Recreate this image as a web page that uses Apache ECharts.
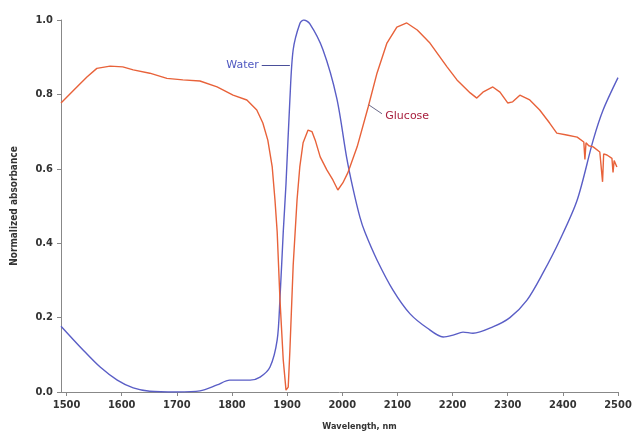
<!DOCTYPE html>
<html>
<head>
<meta charset="utf-8">
<script src="https://cdn.jsdelivr.net/npm/echarts@6/dist/echarts.min.js"></script>
<style>
  html, body { margin: 0; padding: 0; background: #fff; }
  #chart { width: 632px; height: 434px; }
</style>
</head>
<body>
<div id="chart"></div>
<script>
// wavelength ticks
var xTicks = [1500, 1600, 1700, 1800, 1900, 2000, 2100, 2200, 2300, 2400, 2500];

// water absorbance [wavelength, value]
var waterX = [1490, 1530, 1561, 1592, 1621, 1651, 1700, 1742, 1773, 1796, 1833, 1851, 1869, 1882, 1887, 1893,
  1898, 1905, 1911, 1923, 1930, 1941, 1965, 1990, 2008, 2019, 2032, 2041, 2063, 2092, 2123, 2154, 2183,
  2201, 2219, 2237, 2273, 2304, 2335, 2364, 2395, 2426, 2455, 2473, 2500];
var waterY = [0.177, 0.113, 0.067, 0.032, 0.011, 0.002, 0.0, 0.003, 0.019, 0.032, 0.032, 0.04, 0.067, 0.14, 0.25, 0.43,
  0.56, 0.785, 0.92, 0.99, 1.0, 0.99, 0.92, 0.79, 0.63, 0.55, 0.47, 0.43, 0.355, 0.274, 0.21, 0.172, 0.148,
  0.153, 0.161, 0.158, 0.175, 0.2, 0.247, 0.32, 0.41, 0.516, 0.677, 0.758, 0.845];

// glucose absorbance [wavelength, value]
var glucoseX = [1490, 1512, 1537, 1555, 1579, 1602, 1621, 1651, 1682, 1711, 1742, 1773, 1802, 1827, 1845, 1856,
  1865, 1873, 1878, 1882, 1887, 1893, 1898, 1902, 1905, 1911, 1918, 1923, 1929, 1938, 1945, 1951, 1960,
  1972, 1983, 1992, 2001, 2010, 2027, 2047, 2063, 2081, 2099, 2117, 2136, 2159, 2190, 2208, 2232, 2244,
  2255, 2273, 2286, 2300, 2309, 2322, 2340, 2358, 2376, 2389, 2407, 2426, 2438, 2440, 2442, 2447, 2455,
  2467, 2470, 2472, 2474, 2480, 2489, 2491, 2493, 2498];
var glucoseY = [0.777, 0.81, 0.847, 0.87, 0.876, 0.874, 0.866, 0.857, 0.843, 0.839, 0.836, 0.82, 0.798, 0.785, 0.758, 0.723,
  0.677, 0.605, 0.516, 0.43, 0.25, 0.086, 0.005, 0.013, 0.11, 0.34, 0.516, 0.605, 0.67, 0.704, 0.7, 0.677, 0.632,
  0.597, 0.57, 0.543, 0.562, 0.589, 0.659, 0.766, 0.857, 0.938, 0.981, 0.992, 0.973, 0.938, 0.874, 0.839, 0.804, 0.79,
  0.806, 0.82, 0.806, 0.777, 0.78, 0.798, 0.785, 0.758, 0.723, 0.696, 0.691, 0.685, 0.672, 0.625, 0.67, 0.662, 0.659,
  0.645, 0.64, 0.565, 0.64, 0.637, 0.628, 0.59, 0.622, 0.605];

function pairs(xs, ys) {
  var out = [];
  for (var i = 0; i < xs.length; i++) out.push([xs[i], ys[i]]);
  return out;
}

var myChart = echarts.init(document.getElementById('chart'));

var axisFont = { color: '#333', fontSize: 11, fontWeight: 'bold', fontFamily: 'Liberation Sans Narrow, DejaVu Sans Condensed, sans-serif' };

var option = {
  backgroundColor: '#fff',
  animation: false,
  grid: { left: 61, right: 14, top: 20, bottom: 42, outerBoundsMode: 'none' },
  xAxis: {
    type: 'value',
    min: 1490,
    max: 2500,
    name: 'Wavelength, nm',
    nameLocation: 'middle',
    nameGap: 30,
    nameTextStyle: { color: '#333', fontSize: 9, fontWeight: 'bold', fontFamily: 'DejaVu Sans Condensed, sans-serif', padding: [0, 0, 0, 40] },
    splitLine: { show: false },
    axisLine: { lineStyle: { color: '#888', width: 1 } },
    axisTick: { customValues: xTicks, length: 4, lineStyle: { color: '#888' } },
    axisLabel: Object.assign({ customValues: xTicks, margin: 8, formatter: function (v) { return String(v); } }, axisFont)
  },
  yAxis: {
    type: 'value',
    min: 0,
    max: 1,
    interval: 0.2,
    name: 'Normalized absorbance',
    nameLocation: 'middle',
    nameGap: 42,
    nameTextStyle: { color: '#333', fontSize: 10, fontWeight: 'bold', fontFamily: 'DejaVu Sans Condensed, sans-serif' },
    splitLine: { show: false },
    axisLine: { show: true, lineStyle: { color: '#888', width: 1 } },
    axisTick: { show: true, length: 4, lineStyle: { color: '#888' } },
    axisLabel: Object.assign({ formatter: function (v) { return v.toFixed(1); }, margin: 8 }, axisFont)
  },
  series: [
    {
      name: 'Water',
      type: 'line',
      smooth: 0.3,
      showSymbol: false,
      lineStyle: { color: '#5a5ec6', width: 1.4 },
      data: pairs(waterX, waterY),
      markLine: {
        silent: true,
        symbol: ['none', 'none'],
        lineStyle: { color: '#4a4f9a', width: 1, type: 'solid' },
        label: { show: true, position: 'end', formatter: 'Water', color: '#4f58c0', fontSize: 11, fontFamily: 'DejaVu Sans, sans-serif', distance: 3 },
        data: [[{ coord: [1905, 0.879] }, { coord: [1854, 0.879] }]]
      }
    },
    {
      name: 'Glucose',
      type: 'line',
      showSymbol: false,
      lineStyle: { color: '#e8623a', width: 1.4 },
      data: pairs(glucoseX, glucoseY),
      markLine: {
        silent: true,
        symbol: ['none', 'none'],
        lineStyle: { color: '#6a6a8a', width: 1, type: 'solid' },
        label: { show: true, position: 'end', formatter: 'Glucose', color: '#a8203e', fontSize: 11, fontFamily: 'DejaVu Sans, sans-serif', distance: 4 },
        data: [[{ coord: [2048, 0.772] }, { coord: [2072, 0.748] }]]
      }
    }
  ]
};

myChart.setOption(option);
</script>
</body>
</html>
